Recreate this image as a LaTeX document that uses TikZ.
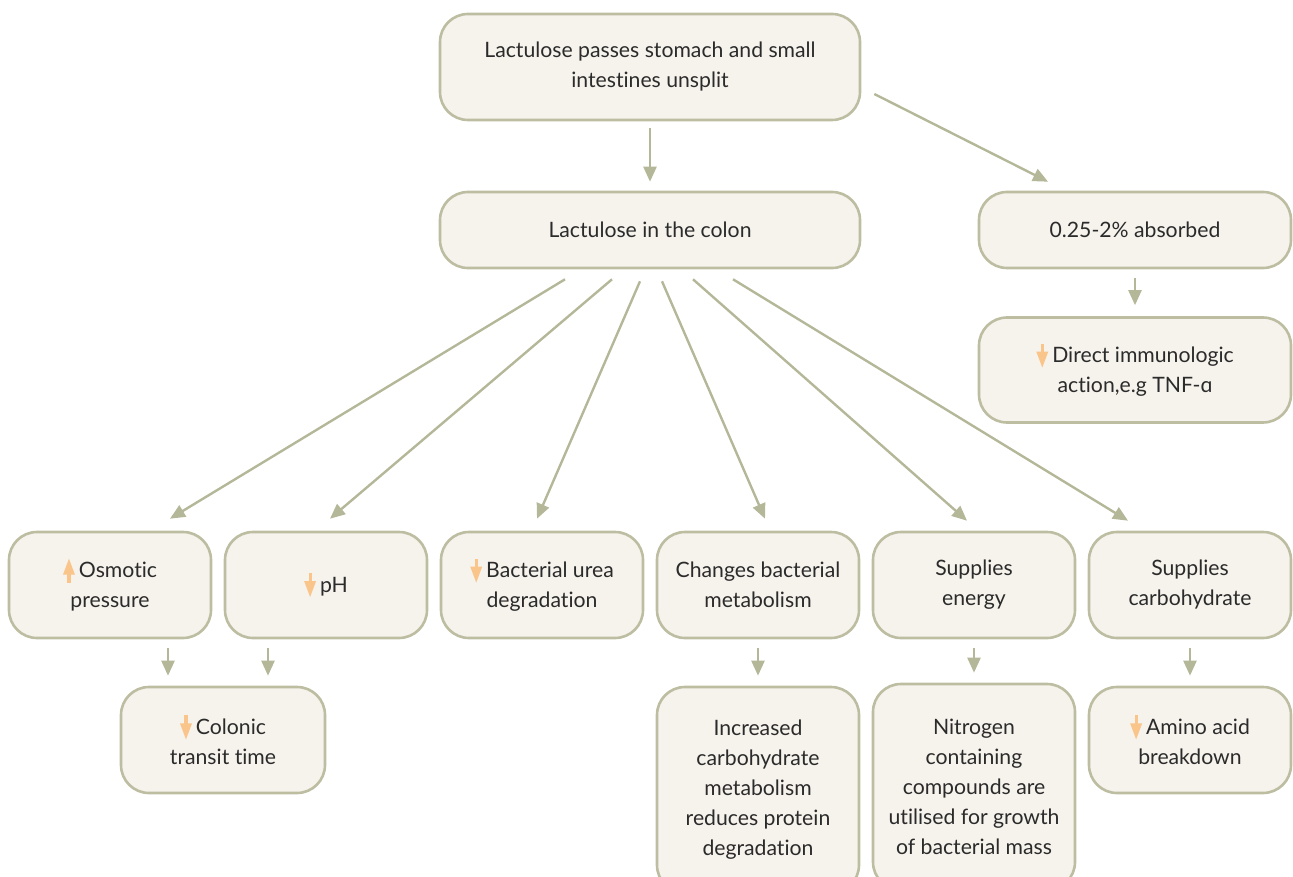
\documentclass[tikz,border=0pt]{standalone}
\usepackage{fontspec}
\setmainfont{Lato}[Ligatures={NoCommon,NoRare,NoDiscretionary}]
\usetikzlibrary{arrows.meta,calc}
\definecolor{boxfill}{HTML}{F6F2EC}
\definecolor{boxline}{HTML}{BDBDA1}
\definecolor{arrline}{HTML}{B4B798}
\definecolor{orarr}{HTML}{F9C58A}
\definecolor{txt}{HTML}{2B2B2B}
\newcommand{\dnarr}{\tikz[baseline=0pt,x=1pt,y=1pt,sharp corners,line width=0pt]{\fill[orarr] (-1.6pt,19pt) rectangle (1.6pt,8pt); \fill[orarr] (-6pt,11pt) -- (6pt,11pt) -- (0pt,-5pt) -- cycle;}\hspace{4pt}}
\newcommand{\uparr}{\tikz[baseline=0pt,x=1pt,y=1pt,sharp corners,line width=0pt]{\fill[orarr] (-1.6pt,-5pt) rectangle (1.6pt,6pt); \fill[orarr] (-6pt,3pt) -- (6pt,3pt) -- (0pt,19pt) -- cycle;}\hspace{4pt}}
\begin{document}
\begin{tikzpicture}[x=1pt,y=-1pt,
  box/.style={draw=boxline, line width=2.6pt, fill=boxfill, rounded corners=28pt,
    align=center, text=txt, font=\fontsize{21.2}{30}\selectfont, inner sep=0pt},
  arr/.style={draw=arrline, line width=2.4pt, -{Triangle[width=13pt,length=15pt]}}]
\useasboundingbox (0,0) rectangle (1293,877);
\node[box, minimum width=420pt, minimum height=106pt] (top) at (650,67) {Lactulose passes stomach and small\\intestines unsplit};
\node[box, minimum width=420pt, minimum height=76pt] (colon) at (650,230) {Lactulose in the colon};
\node[box, minimum width=312pt, minimum height=76pt] (abs) at (1135,230) {0.25-2\% absorbed};
\node[box, minimum width=312pt, minimum height=105pt] (imm) at (1135,370) {\dnarr Direct immunologic\\action,e.g TNF-ɑ};
\node[box, minimum width=202pt, minimum height=106pt] (osm) at (110,585) {\uparr Osmotic\\pressure};
\node[box, minimum width=202pt, minimum height=106pt] (ph) at (326,585) {\dnarr pH};
\node[box, minimum width=202pt, minimum height=106pt] (bac) at (542,585) {\dnarr Bacterial urea\\degradation};
\node[box, minimum width=202pt, minimum height=106pt] (chg) at (758,585) {Changes bacterial\\metabolism};
\node[box, minimum width=202pt, minimum height=106pt] (ene) at (974,585) {Supplies\\energy};
\node[box, minimum width=202pt, minimum height=106pt] (carb) at (1190,585) {Supplies\\carbohydrate};
\node[box, minimum width=204pt, minimum height=106pt] (col) at (223,740) {\dnarr Colonic\\transit time};
\node[box, minimum width=202pt, minimum height=206pt] (inc) at (758,790) {Increased\\carbohydrate\\metabolism\\reduces protein\\degradation};
\node[box, minimum width=202pt, minimum height=206pt] (nit) at (974,787) {Nitrogen\\containing\\compounds are\\utilised for growth\\of bacterial mass};
\node[box, minimum width=202pt, minimum height=106pt] (amino) at (1190,740) {\dnarr Amino acid\\breakdown};
% arrows
\draw[arr] ([yshift=-7pt]top.south) -- ([yshift=9pt]colon.north);
\draw[arr] ([xshift=13pt,yshift=-27pt]top.east) -- ([xshift=-87pt,yshift=9pt]abs.north);
\draw[arr] ([yshift=-9pt]abs.south) -- ([yshift=11pt]imm.north);
\draw[arr] ([xshift=-85pt,yshift=-10pt]colon.south) -- ([xshift=60pt,yshift=12pt]osm.north);
\draw[arr] ([xshift=-38pt,yshift=-10pt]colon.south) -- ([xshift=4pt,yshift=12pt]ph.north);
\draw[arr] ([xshift=-10pt,yshift=-12pt]colon.south) -- ([xshift=-5pt,yshift=12pt]bac.north);
\draw[arr] ([xshift=12pt,yshift=-12pt]colon.south) -- ([xshift=7pt,yshift=12pt]chg.north);
\draw[arr] ([xshift=43pt,yshift=-10pt]colon.south) -- ([xshift=-7pt,yshift=10pt]ene.north);
\draw[arr] ([xshift=83pt,yshift=-10pt]colon.south) -- ([xshift=-62pt,yshift=10pt]carb.north);
\draw[arr] ([xshift=58pt,yshift=-9pt]osm.south) -- ([xshift=-55pt,yshift=10pt]col.north);
\draw[arr] ([xshift=-58pt,yshift=-9pt]ph.south) -- ([xshift=45pt,yshift=10pt]col.north);
\draw[arr] ([yshift=-9pt]chg.south) -- ([yshift=10pt]inc.north);
\draw[arr] ([yshift=-9pt]ene.south) -- ([yshift=10pt]nit.north);
\draw[arr] ([yshift=-9pt]carb.south) -- ([yshift=10pt]amino.north);
\end{tikzpicture}
\end{document}
